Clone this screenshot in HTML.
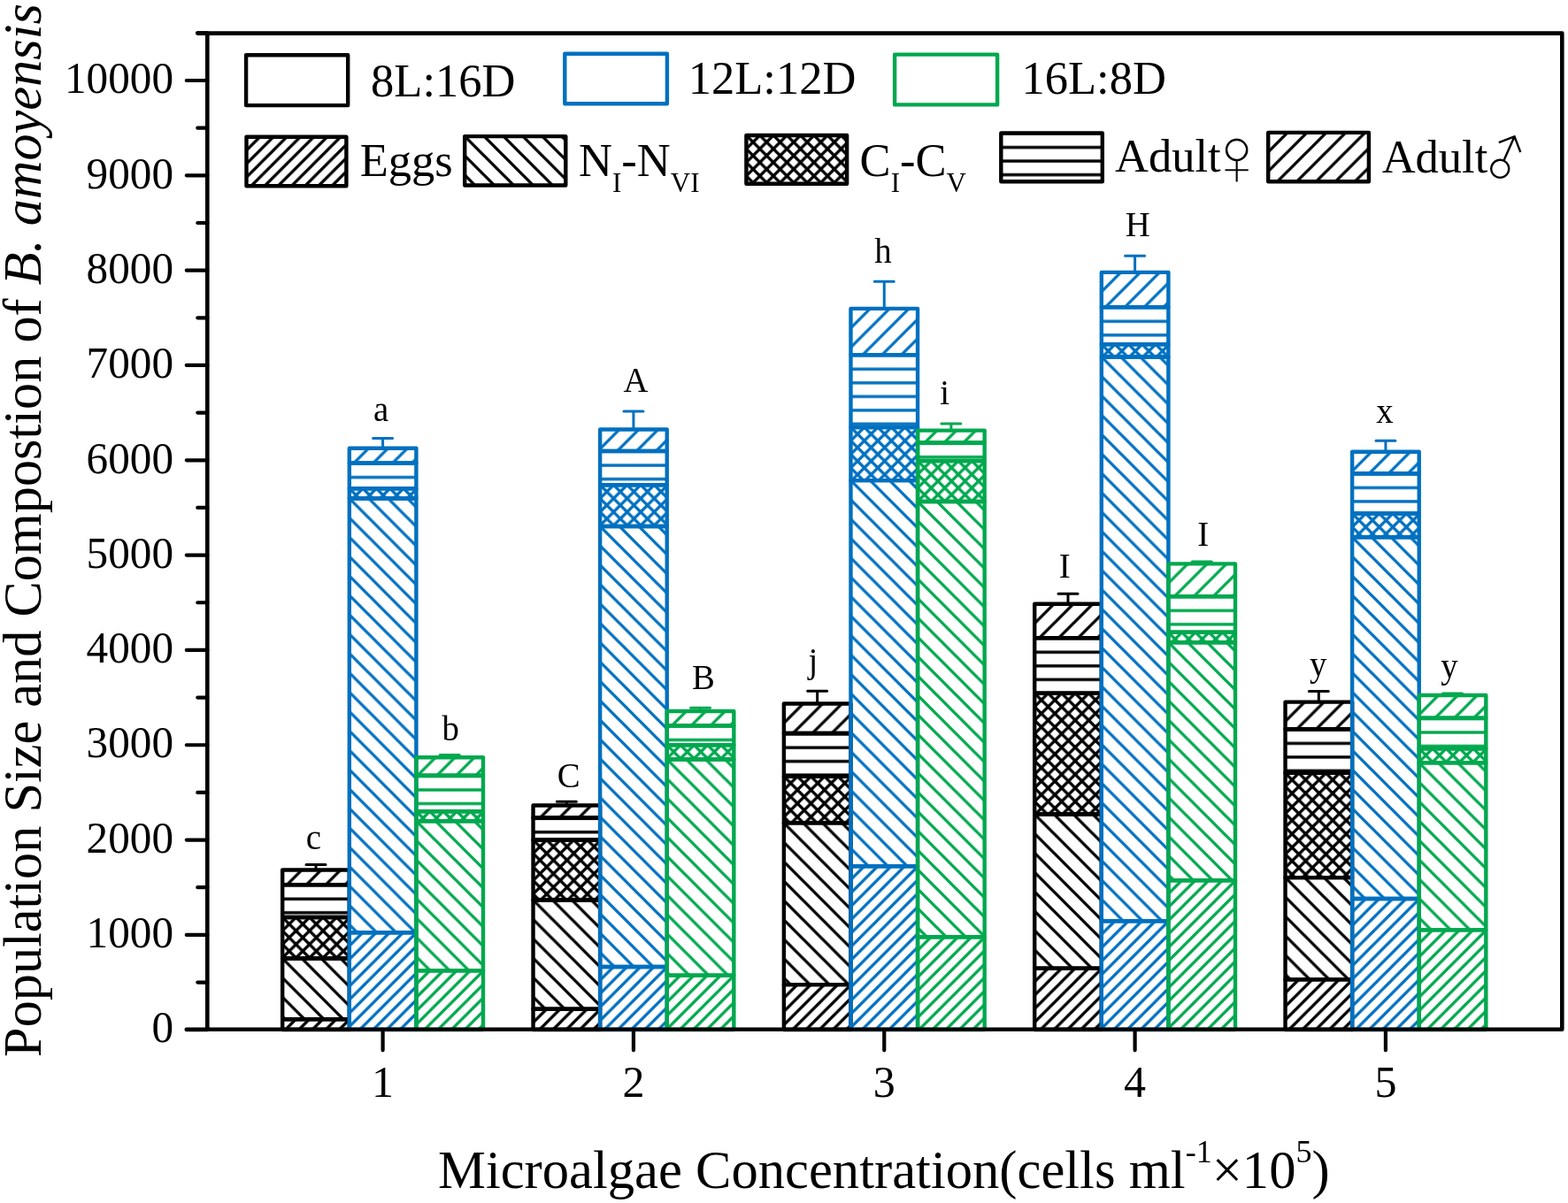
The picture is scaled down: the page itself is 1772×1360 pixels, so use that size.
<!DOCTYPE html><html><head><meta charset="utf-8"><style>html,body{margin:0;padding:0;background:#fff;overflow:hidden}svg{display:block}</style></head><body><svg width="1772" height="1360" viewBox="0 0 1772 1360">
<defs><pattern id="Ek" patternUnits="userSpaceOnUse" width="15.2" height="15.2"><path d="M-7.6,7.6L7.6,-7.6M0,15.2L15.2,0M7.6,22.799999999999997L22.799999999999997,7.6" stroke="#000000" stroke-width="3.3" fill="none"/></pattern>
<pattern id="Mk" patternUnits="userSpaceOnUse" width="21.9" height="21.9"><path d="M-10.95,10.95L10.95,-10.95M0,21.9L21.9,0M10.95,32.849999999999994L32.849999999999994,10.95" stroke="#000000" stroke-width="3.3" fill="none"/></pattern>
<pattern id="Nk" patternUnits="userSpaceOnUse" width="21.9" height="21.9"><path d="M-10.95,10.95L10.95,32.849999999999994M0,0L21.9,21.9M10.95,-10.95L32.849999999999994,10.95" stroke="#000000" stroke-width="3.3" fill="none"/></pattern>
<pattern id="Ck" patternUnits="userSpaceOnUse" width="15.3" height="15.3"><path d="M-7.65,7.65L7.65,-7.65M0,15.3L15.3,0M7.65,22.950000000000003L22.950000000000003,7.65M-7.65,7.65L7.65,22.950000000000003M0,0L15.3,15.3M7.65,-7.65L22.950000000000003,7.65" stroke="#000000" stroke-width="3.3" fill="none"/></pattern>
<pattern id="Fk" patternUnits="userSpaceOnUse" y="0.7" width="15.5" height="15.5"><path d="M-1,0H16.5M-1,15.5H16.5" stroke="#000000" stroke-width="3.3" fill="none"/></pattern>
<pattern id="Eb" patternUnits="userSpaceOnUse" width="15.2" height="15.2"><path d="M-7.6,7.6L7.6,-7.6M0,15.2L15.2,0M7.6,22.799999999999997L22.799999999999997,7.6" stroke="#0070C0" stroke-width="3.3" fill="none"/></pattern>
<pattern id="Mb" patternUnits="userSpaceOnUse" width="21.9" height="21.9"><path d="M-10.95,10.95L10.95,-10.95M0,21.9L21.9,0M10.95,32.849999999999994L32.849999999999994,10.95" stroke="#0070C0" stroke-width="3.3" fill="none"/></pattern>
<pattern id="Nb" patternUnits="userSpaceOnUse" width="21.9" height="21.9"><path d="M-10.95,10.95L10.95,32.849999999999994M0,0L21.9,21.9M10.95,-10.95L32.849999999999994,10.95" stroke="#0070C0" stroke-width="3.3" fill="none"/></pattern>
<pattern id="Cb" patternUnits="userSpaceOnUse" width="15.3" height="15.3"><path d="M-7.65,7.65L7.65,-7.65M0,15.3L15.3,0M7.65,22.950000000000003L22.950000000000003,7.65M-7.65,7.65L7.65,22.950000000000003M0,0L15.3,15.3M7.65,-7.65L22.950000000000003,7.65" stroke="#0070C0" stroke-width="3.3" fill="none"/></pattern>
<pattern id="Fb" patternUnits="userSpaceOnUse" y="0.7" width="15.5" height="15.5"><path d="M-1,0H16.5M-1,15.5H16.5" stroke="#0070C0" stroke-width="3.3" fill="none"/></pattern>
<pattern id="Eg" patternUnits="userSpaceOnUse" width="15.2" height="15.2"><path d="M-7.6,7.6L7.6,-7.6M0,15.2L15.2,0M7.6,22.799999999999997L22.799999999999997,7.6" stroke="#00A84E" stroke-width="3.3" fill="none"/></pattern>
<pattern id="Mg" patternUnits="userSpaceOnUse" width="21.9" height="21.9"><path d="M-10.95,10.95L10.95,-10.95M0,21.9L21.9,0M10.95,32.849999999999994L32.849999999999994,10.95" stroke="#00A84E" stroke-width="3.3" fill="none"/></pattern>
<pattern id="Ng" patternUnits="userSpaceOnUse" width="21.9" height="21.9"><path d="M-10.95,10.95L10.95,32.849999999999994M0,0L21.9,21.9M10.95,-10.95L32.849999999999994,10.95" stroke="#00A84E" stroke-width="3.3" fill="none"/></pattern>
<pattern id="Cg" patternUnits="userSpaceOnUse" width="15.3" height="15.3"><path d="M-7.65,7.65L7.65,-7.65M0,15.3L15.3,0M7.65,22.950000000000003L22.950000000000003,7.65M-7.65,7.65L7.65,22.950000000000003M0,0L15.3,15.3M7.65,-7.65L22.950000000000003,7.65" stroke="#00A84E" stroke-width="3.3" fill="none"/></pattern>
<pattern id="Fg" patternUnits="userSpaceOnUse" y="0.7" width="15.5" height="15.5"><path d="M-1,0H16.5M-1,15.5H16.5" stroke="#00A84E" stroke-width="3.3" fill="none"/></pattern></defs>
<rect width="1772" height="1360" fill="#fff"/>
<path d="M357.00,983.50V977.50M346.00,977.50H368.00" stroke="#000000" stroke-width="3" stroke-linecap="round" fill="none"/>
<g transform="translate(319.20,983.50)"><rect width="75.60" height="16.60" fill="url(#Mk)" stroke="#000000" stroke-width="4.4" stroke-linejoin="round"/></g>
<g transform="translate(319.20,1000.10)"><rect width="75.60" height="36.90" fill="url(#Fk)" stroke="#000000" stroke-width="4.4" stroke-linejoin="round"/></g>
<g transform="translate(319.20,1037.00)"><rect width="75.60" height="46.50" fill="url(#Ck)" stroke="#000000" stroke-width="4.4" stroke-linejoin="round"/></g>
<g transform="translate(319.20,1083.50)"><rect width="75.60" height="68.70" fill="url(#Nk)" stroke="#000000" stroke-width="4.4" stroke-linejoin="round"/></g>
<g transform="translate(319.20,1152.20)"><rect width="75.60" height="11.80" fill="url(#Ek)" stroke="#000000" stroke-width="4.4" stroke-linejoin="round"/></g>
<path d="M640.33,910.50V906.30M629.33,906.30H651.33" stroke="#000000" stroke-width="3" stroke-linecap="round" fill="none"/>
<g transform="translate(602.53,910.50)"><rect width="75.60" height="14.00" fill="url(#Mk)" stroke="#000000" stroke-width="4.4" stroke-linejoin="round"/></g>
<g transform="translate(602.53,924.50)"><rect width="75.60" height="25.00" fill="url(#Fk)" stroke="#000000" stroke-width="4.4" stroke-linejoin="round"/></g>
<g transform="translate(602.53,949.50)"><rect width="75.60" height="68.00" fill="url(#Ck)" stroke="#000000" stroke-width="4.4" stroke-linejoin="round"/></g>
<g transform="translate(602.53,1017.50)"><rect width="75.60" height="123.30" fill="url(#Nk)" stroke="#000000" stroke-width="4.4" stroke-linejoin="round"/></g>
<g transform="translate(602.53,1140.80)"><rect width="75.60" height="23.20" fill="url(#Ek)" stroke="#000000" stroke-width="4.4" stroke-linejoin="round"/></g>
<path d="M923.66,795.50V781.20M912.66,781.20H934.66" stroke="#000000" stroke-width="3" stroke-linecap="round" fill="none"/>
<g transform="translate(885.86,795.50)"><rect width="75.60" height="33.50" fill="url(#Mk)" stroke="#000000" stroke-width="4.4" stroke-linejoin="round"/></g>
<g transform="translate(885.86,829.00)"><rect width="75.60" height="48.70" fill="url(#Fk)" stroke="#000000" stroke-width="4.4" stroke-linejoin="round"/></g>
<g transform="translate(885.86,877.70)"><rect width="75.60" height="52.70" fill="url(#Ck)" stroke="#000000" stroke-width="4.4" stroke-linejoin="round"/></g>
<g transform="translate(885.86,930.40)"><rect width="75.60" height="182.70" fill="url(#Nk)" stroke="#000000" stroke-width="4.4" stroke-linejoin="round"/></g>
<g transform="translate(885.86,1113.10)"><rect width="75.60" height="50.90" fill="url(#Ek)" stroke="#000000" stroke-width="4.4" stroke-linejoin="round"/></g>
<path d="M1206.99,682.80V671.20M1195.99,671.20H1217.99" stroke="#000000" stroke-width="3" stroke-linecap="round" fill="none"/>
<g transform="translate(1169.19,682.80)"><rect width="75.60" height="38.30" fill="url(#Mk)" stroke="#000000" stroke-width="4.4" stroke-linejoin="round"/></g>
<g transform="translate(1169.19,721.10)"><rect width="75.60" height="62.60" fill="url(#Fk)" stroke="#000000" stroke-width="4.4" stroke-linejoin="round"/></g>
<g transform="translate(1169.19,783.70)"><rect width="75.60" height="136.80" fill="url(#Ck)" stroke="#000000" stroke-width="4.4" stroke-linejoin="round"/></g>
<g transform="translate(1169.19,920.50)"><rect width="75.60" height="174.30" fill="url(#Nk)" stroke="#000000" stroke-width="4.4" stroke-linejoin="round"/></g>
<g transform="translate(1169.19,1094.80)"><rect width="75.60" height="69.20" fill="url(#Ek)" stroke="#000000" stroke-width="4.4" stroke-linejoin="round"/></g>
<path d="M1490.32,793.60V781.60M1479.32,781.60H1501.32" stroke="#000000" stroke-width="3" stroke-linecap="round" fill="none"/>
<g transform="translate(1452.52,793.60)"><rect width="75.60" height="30.60" fill="url(#Mk)" stroke="#000000" stroke-width="4.4" stroke-linejoin="round"/></g>
<g transform="translate(1452.52,824.20)"><rect width="75.60" height="49.70" fill="url(#Fk)" stroke="#000000" stroke-width="4.4" stroke-linejoin="round"/></g>
<g transform="translate(1452.52,873.90)"><rect width="75.60" height="118.20" fill="url(#Ck)" stroke="#000000" stroke-width="4.4" stroke-linejoin="round"/></g>
<g transform="translate(1452.52,992.10)"><rect width="75.60" height="115.30" fill="url(#Nk)" stroke="#000000" stroke-width="4.4" stroke-linejoin="round"/></g>
<g transform="translate(1452.52,1107.40)"><rect width="75.60" height="56.60" fill="url(#Ek)" stroke="#000000" stroke-width="4.4" stroke-linejoin="round"/></g>
<path d="M432.60,506.70V495.60M421.60,495.60H443.60" stroke="#0070C0" stroke-width="3" stroke-linecap="round" fill="none"/>
<g transform="translate(394.80,506.70)"><rect width="75.60" height="16.70" fill="url(#Mb)" stroke="#0070C0" stroke-width="4.4" stroke-linejoin="round"/></g>
<g transform="translate(394.80,523.40)"><rect width="75.60" height="28.80" fill="url(#Fb)" stroke="#0070C0" stroke-width="4.4" stroke-linejoin="round"/></g>
<g transform="translate(394.80,552.20)"><rect width="75.60" height="11.30" fill="url(#Cb)" stroke="#0070C0" stroke-width="4.4" stroke-linejoin="round"/></g>
<g transform="translate(394.80,563.50)"><rect width="75.60" height="490.70" fill="url(#Nb)" stroke="#0070C0" stroke-width="4.4" stroke-linejoin="round"/></g>
<g transform="translate(394.80,1054.20)"><rect width="75.60" height="109.80" fill="url(#Eb)" stroke="#0070C0" stroke-width="4.4" stroke-linejoin="round"/></g>
<path d="M715.93,485.50V465.00M704.93,465.00H726.93" stroke="#0070C0" stroke-width="3" stroke-linecap="round" fill="none"/>
<g transform="translate(678.13,485.50)"><rect width="75.60" height="24.40" fill="url(#Mb)" stroke="#0070C0" stroke-width="4.4" stroke-linejoin="round"/></g>
<g transform="translate(678.13,509.90)"><rect width="75.60" height="38.30" fill="url(#Fb)" stroke="#0070C0" stroke-width="4.4" stroke-linejoin="round"/></g>
<g transform="translate(678.13,548.20)"><rect width="75.60" height="46.80" fill="url(#Cb)" stroke="#0070C0" stroke-width="4.4" stroke-linejoin="round"/></g>
<g transform="translate(678.13,595.00)"><rect width="75.60" height="498.00" fill="url(#Nb)" stroke="#0070C0" stroke-width="4.4" stroke-linejoin="round"/></g>
<g transform="translate(678.13,1093.00)"><rect width="75.60" height="71.00" fill="url(#Eb)" stroke="#0070C0" stroke-width="4.4" stroke-linejoin="round"/></g>
<path d="M999.26,348.90V318.30M988.26,318.30H1010.26" stroke="#0070C0" stroke-width="3" stroke-linecap="round" fill="none"/>
<g transform="translate(961.46,348.90)"><rect width="75.60" height="52.20" fill="url(#Mb)" stroke="#0070C0" stroke-width="4.4" stroke-linejoin="round"/></g>
<g transform="translate(961.46,401.10)"><rect width="75.60" height="81.90" fill="url(#Fb)" stroke="#0070C0" stroke-width="4.4" stroke-linejoin="round"/></g>
<g transform="translate(961.46,483.00)"><rect width="75.60" height="60.10" fill="url(#Cb)" stroke="#0070C0" stroke-width="4.4" stroke-linejoin="round"/></g>
<g transform="translate(961.46,543.10)"><rect width="75.60" height="436.20" fill="url(#Nb)" stroke="#0070C0" stroke-width="4.4" stroke-linejoin="round"/></g>
<g transform="translate(961.46,979.30)"><rect width="75.60" height="184.70" fill="url(#Eb)" stroke="#0070C0" stroke-width="4.4" stroke-linejoin="round"/></g>
<path d="M1282.59,307.90V289.20M1271.59,289.20H1293.59" stroke="#0070C0" stroke-width="3" stroke-linecap="round" fill="none"/>
<g transform="translate(1244.79,307.90)"><rect width="75.60" height="39.20" fill="url(#Mb)" stroke="#0070C0" stroke-width="4.4" stroke-linejoin="round"/></g>
<g transform="translate(1244.79,347.10)"><rect width="75.60" height="42.10" fill="url(#Fb)" stroke="#0070C0" stroke-width="4.4" stroke-linejoin="round"/></g>
<g transform="translate(1244.79,389.20)"><rect width="75.60" height="14.30" fill="url(#Cb)" stroke="#0070C0" stroke-width="4.4" stroke-linejoin="round"/></g>
<g transform="translate(1244.79,403.50)"><rect width="75.60" height="637.70" fill="url(#Nb)" stroke="#0070C0" stroke-width="4.4" stroke-linejoin="round"/></g>
<g transform="translate(1244.79,1041.20)"><rect width="75.60" height="122.80" fill="url(#Eb)" stroke="#0070C0" stroke-width="4.4" stroke-linejoin="round"/></g>
<path d="M1565.92,510.70V498.30M1554.92,498.30H1576.92" stroke="#0070C0" stroke-width="3" stroke-linecap="round" fill="none"/>
<g transform="translate(1528.12,510.70)"><rect width="75.60" height="24.50" fill="url(#Mb)" stroke="#0070C0" stroke-width="4.4" stroke-linejoin="round"/></g>
<g transform="translate(1528.12,535.20)"><rect width="75.60" height="45.30" fill="url(#Fb)" stroke="#0070C0" stroke-width="4.4" stroke-linejoin="round"/></g>
<g transform="translate(1528.12,580.50)"><rect width="75.60" height="26.80" fill="url(#Cb)" stroke="#0070C0" stroke-width="4.4" stroke-linejoin="round"/></g>
<g transform="translate(1528.12,607.30)"><rect width="75.60" height="408.70" fill="url(#Nb)" stroke="#0070C0" stroke-width="4.4" stroke-linejoin="round"/></g>
<g transform="translate(1528.12,1016.00)"><rect width="75.60" height="148.00" fill="url(#Eb)" stroke="#0070C0" stroke-width="4.4" stroke-linejoin="round"/></g>
<path d="M508.20,856.30V853.50M497.20,853.50H519.20" stroke="#00A84E" stroke-width="3" stroke-linecap="round" fill="none"/>
<g transform="translate(470.40,856.30)"><rect width="75.60" height="20.50" fill="url(#Mg)" stroke="#00A84E" stroke-width="4.4" stroke-linejoin="round"/></g>
<g transform="translate(470.40,876.80)"><rect width="75.60" height="40.40" fill="url(#Fg)" stroke="#00A84E" stroke-width="4.4" stroke-linejoin="round"/></g>
<g transform="translate(470.40,917.20)"><rect width="75.60" height="11.00" fill="url(#Cg)" stroke="#00A84E" stroke-width="4.4" stroke-linejoin="round"/></g>
<g transform="translate(470.40,928.20)"><rect width="75.60" height="169.20" fill="url(#Ng)" stroke="#00A84E" stroke-width="4.4" stroke-linejoin="round"/></g>
<g transform="translate(470.40,1097.40)"><rect width="75.60" height="66.60" fill="url(#Eg)" stroke="#00A84E" stroke-width="4.4" stroke-linejoin="round"/></g>
<path d="M791.53,804.00V800.20M780.53,800.20H802.53" stroke="#00A84E" stroke-width="3" stroke-linecap="round" fill="none"/>
<g transform="translate(753.73,804.00)"><rect width="75.60" height="16.30" fill="url(#Mg)" stroke="#00A84E" stroke-width="4.4" stroke-linejoin="round"/></g>
<g transform="translate(753.73,820.30)"><rect width="75.60" height="22.00" fill="url(#Fg)" stroke="#00A84E" stroke-width="4.4" stroke-linejoin="round"/></g>
<g transform="translate(753.73,842.30)"><rect width="75.60" height="16.20" fill="url(#Cg)" stroke="#00A84E" stroke-width="4.4" stroke-linejoin="round"/></g>
<g transform="translate(753.73,858.50)"><rect width="75.60" height="244.10" fill="url(#Ng)" stroke="#00A84E" stroke-width="4.4" stroke-linejoin="round"/></g>
<g transform="translate(753.73,1102.60)"><rect width="75.60" height="61.40" fill="url(#Eg)" stroke="#00A84E" stroke-width="4.4" stroke-linejoin="round"/></g>
<path d="M1074.86,486.60V478.90M1063.86,478.90H1085.86" stroke="#00A84E" stroke-width="3" stroke-linecap="round" fill="none"/>
<g transform="translate(1037.06,486.60)"><rect width="75.60" height="13.90" fill="url(#Mg)" stroke="#00A84E" stroke-width="4.4" stroke-linejoin="round"/></g>
<g transform="translate(1037.06,500.50)"><rect width="75.60" height="20.50" fill="url(#Fg)" stroke="#00A84E" stroke-width="4.4" stroke-linejoin="round"/></g>
<g transform="translate(1037.06,521.00)"><rect width="75.60" height="46.00" fill="url(#Cg)" stroke="#00A84E" stroke-width="4.4" stroke-linejoin="round"/></g>
<g transform="translate(1037.06,567.00)"><rect width="75.60" height="492.20" fill="url(#Ng)" stroke="#00A84E" stroke-width="4.4" stroke-linejoin="round"/></g>
<g transform="translate(1037.06,1059.20)"><rect width="75.60" height="104.80" fill="url(#Eg)" stroke="#00A84E" stroke-width="4.4" stroke-linejoin="round"/></g>
<path d="M1358.19,637.40V635.00M1347.19,635.00H1369.19" stroke="#00A84E" stroke-width="3" stroke-linecap="round" fill="none"/>
<g transform="translate(1320.39,637.40)"><rect width="75.60" height="36.70" fill="url(#Mg)" stroke="#00A84E" stroke-width="4.4" stroke-linejoin="round"/></g>
<g transform="translate(1320.39,674.10)"><rect width="75.60" height="40.70" fill="url(#Fg)" stroke="#00A84E" stroke-width="4.4" stroke-linejoin="round"/></g>
<g transform="translate(1320.39,714.80)"><rect width="75.60" height="11.40" fill="url(#Cg)" stroke="#00A84E" stroke-width="4.4" stroke-linejoin="round"/></g>
<g transform="translate(1320.39,726.20)"><rect width="75.60" height="269.10" fill="url(#Ng)" stroke="#00A84E" stroke-width="4.4" stroke-linejoin="round"/></g>
<g transform="translate(1320.39,995.30)"><rect width="75.60" height="168.70" fill="url(#Eg)" stroke="#00A84E" stroke-width="4.4" stroke-linejoin="round"/></g>
<path d="M1641.52,786.00V784.00M1630.52,784.00H1652.52" stroke="#00A84E" stroke-width="3" stroke-linecap="round" fill="none"/>
<g transform="translate(1603.72,786.00)"><rect width="75.60" height="25.80" fill="url(#Mg)" stroke="#00A84E" stroke-width="4.4" stroke-linejoin="round"/></g>
<g transform="translate(1603.72,811.80)"><rect width="75.60" height="34.40" fill="url(#Fg)" stroke="#00A84E" stroke-width="4.4" stroke-linejoin="round"/></g>
<g transform="translate(1603.72,846.20)"><rect width="75.60" height="16.20" fill="url(#Cg)" stroke="#00A84E" stroke-width="4.4" stroke-linejoin="round"/></g>
<g transform="translate(1603.72,862.40)"><rect width="75.60" height="189.00" fill="url(#Ng)" stroke="#00A84E" stroke-width="4.4" stroke-linejoin="round"/></g>
<g transform="translate(1603.72,1051.40)"><rect width="75.60" height="112.60" fill="url(#Eg)" stroke="#00A84E" stroke-width="4.4" stroke-linejoin="round"/></g>
<path d="M234.3,37.6V1163.8M223.3,37.6H1765.3V1163.8H210.8" stroke="#000" stroke-width="4.6" fill="none" stroke-linejoin="round" stroke-linecap="round"/>
<path d="M210.80,1164.20H234.3M223.30,1110.54H234.3M210.80,1056.88H234.3M223.30,1003.22H234.3M210.80,949.56H234.3M223.30,895.90H234.3M210.80,842.24H234.3M223.30,788.58H234.3M210.80,734.92H234.3M223.30,681.26H234.3M210.80,627.60H234.3M223.30,573.94H234.3M210.80,520.28H234.3M223.30,466.62H234.3M210.80,412.96H234.3M223.30,359.30H234.3M210.80,305.64H234.3M223.30,251.98H234.3M210.80,198.32H234.3M223.30,144.66H234.3M210.80,91.00H234.3M223.30,37.34H234.3M432.60,1163.8V1187.30M715.93,1163.8V1187.30M999.26,1163.8V1187.30M1282.59,1163.8V1187.30M1565.92,1163.8V1187.30" stroke="#000" stroke-width="4.2" stroke-linecap="round" fill="none"/>
<g font-family="Liberation Serif, serif" font-size="50" fill="#000">
<text transform="translate(196,1178.4) scale(0.965,1)" font-size="51" text-anchor="end">0</text>
<text transform="translate(196,1071.1) scale(0.965,1)" font-size="51" text-anchor="end">1000</text>
<text transform="translate(196,963.8) scale(0.965,1)" font-size="51" text-anchor="end">2000</text>
<text transform="translate(196,856.4) scale(0.965,1)" font-size="51" text-anchor="end">3000</text>
<text transform="translate(196,749.1) scale(0.965,1)" font-size="51" text-anchor="end">4000</text>
<text transform="translate(196,641.8) scale(0.965,1)" font-size="51" text-anchor="end">5000</text>
<text transform="translate(196,534.5) scale(0.965,1)" font-size="51" text-anchor="end">6000</text>
<text transform="translate(196,427.2) scale(0.965,1)" font-size="51" text-anchor="end">7000</text>
<text transform="translate(196,319.8) scale(0.965,1)" font-size="51" text-anchor="end">8000</text>
<text transform="translate(196,212.5) scale(0.965,1)" font-size="51" text-anchor="end">9000</text>
<text transform="translate(196,105.2) scale(0.965,1)" font-size="51" text-anchor="end">10000</text>
<text x="432.6" y="1239.5" text-anchor="middle">1</text>
<text x="715.9" y="1239.5" text-anchor="middle">2</text>
<text x="999.3" y="1239.5" text-anchor="middle">3</text>
<text x="1282.6" y="1239.5" text-anchor="middle">4</text>
<text x="1565.9" y="1239.5" text-anchor="middle">5</text>
</g>
<g font-family="Liberation Serif, serif" font-size="40" fill="#000" text-anchor="middle">
<text transform="translate(430.6,476.0) scale(0.97,1)">a</text>
<text transform="translate(509.1,836.6) scale(0.97,1)">b</text>
<text transform="translate(354.3,960.1) scale(0.97,1)">c</text>
<text transform="translate(718.5,443.1) scale(0.97,1)">A</text>
<text transform="translate(795.0,778.8) scale(0.97,1)">B</text>
<text transform="translate(642.6,889.5) scale(0.97,1)">C</text>
<text transform="translate(998.0,296.7) scale(0.97,1)">h</text>
<text transform="translate(1067.6,456.5) scale(0.97,1)">i</text>
<text transform="translate(918.8,759.5) scale(0.97,1)">j</text>
<text transform="translate(1285.7,267.1) scale(0.97,1)">H</text>
<text transform="translate(1203.1,652.8) scale(0.97,1)">I</text>
<text transform="translate(1359.7,617.2) scale(0.97,1)">I</text>
<text transform="translate(1565.0,477.9) scale(0.97,1)">x</text>
<text transform="translate(1489.6,764.0) scale(0.97,1)">y</text>
<text transform="translate(1638.0,765.5) scale(0.97,1)">y</text>
</g>
<g transform="translate(278.10,62.30)"><rect width="115.10" height="56.80" fill="#fff" stroke="#000000" stroke-width="4.4" stroke-linejoin="round"/></g>
<g transform="translate(638.30,60.70)"><rect width="115.60" height="56.50" fill="#fff" stroke="#0070C0" stroke-width="4.4" stroke-linejoin="round"/></g>
<g transform="translate(1011.10,61.60)"><rect width="116.00" height="56.80" fill="#fff" stroke="#00A84E" stroke-width="4.4" stroke-linejoin="round"/></g>
<g transform="translate(278.50,154.80)"><rect width="112.90" height="55.40" fill="url(#Ek)" stroke="#000000" stroke-width="4.4" stroke-linejoin="round"/></g>
<g transform="translate(525.20,154.10)"><rect width="114.10" height="55.40" fill="url(#Nk)" stroke="#000000" stroke-width="4.4" stroke-linejoin="round"/></g>
<g transform="translate(843.40,153.00)"><rect width="113.70" height="54.80" fill="url(#Ck)" stroke="#000000" stroke-width="4.4" stroke-linejoin="round"/></g>
<g transform="translate(1131.30,150.40)"><rect width="114.50" height="54.80" fill="url(#Fk)" stroke="#000000" stroke-width="4.4" stroke-linejoin="round"/></g>
<g transform="translate(1433.20,149.90)"><rect width="113.70" height="55.30" fill="url(#Mk)" stroke="#000000" stroke-width="4.4" stroke-linejoin="round"/></g>
<g font-family="Liberation Serif, serif" font-size="52.5" fill="#000">
<text x="419.1" y="109.3">8L:16D</text>
<text x="777.8" y="105.7">12L:12D</text>
<text x="1154.5" y="105.7">16L:8D</text>
<text x="406.7" y="199.4">Eggs</text>
<text x="654.1" y="198.6">N<tspan font-size="31" dy="18.3">I</tspan><tspan dy="-18.3">-N</tspan><tspan font-size="31" dy="18.3">VI</tspan></text>
<text x="971.6" y="198.6">C<tspan font-size="31" dy="18.3">I</tspan><tspan dy="-18.3">-C</tspan><tspan font-size="31" dy="18.3">V</tspan></text>
<text x="1260" y="194.3">Adult</text>
<text x="1561.7" y="194.6">Adult</text>
</g>
<text transform="translate(1361.8,210)" font-family="Liberation Serif, serif" font-size="96" fill="#000" stroke="#fff" stroke-width="1.3">♀</text>
<text transform="translate(1694.8,191.8) rotate(-21) translate(-17.29,10.57)" font-family="Noto Serif CJK SC, Liberation Serif, serif" font-size="56" fill="#000">♂</text>
<text transform="translate(46,1194.9) rotate(-90)" font-family="Liberation Serif, serif" font-size="60.3" fill="#000">Population Size and Compostion of <tspan font-style="italic">B. amoyensis</tspan></text>
<text x="495" y="1342.8" font-family="Liberation Serif, serif" font-size="60.6" fill="#000">Microalgae Concentration(cells ml<tspan font-size="36" dy="-29">-1</tspan><tspan dy="29">×10</tspan><tspan font-size="36" dy="-29">5</tspan><tspan dy="29">)</tspan></text>
</svg></body></html>
